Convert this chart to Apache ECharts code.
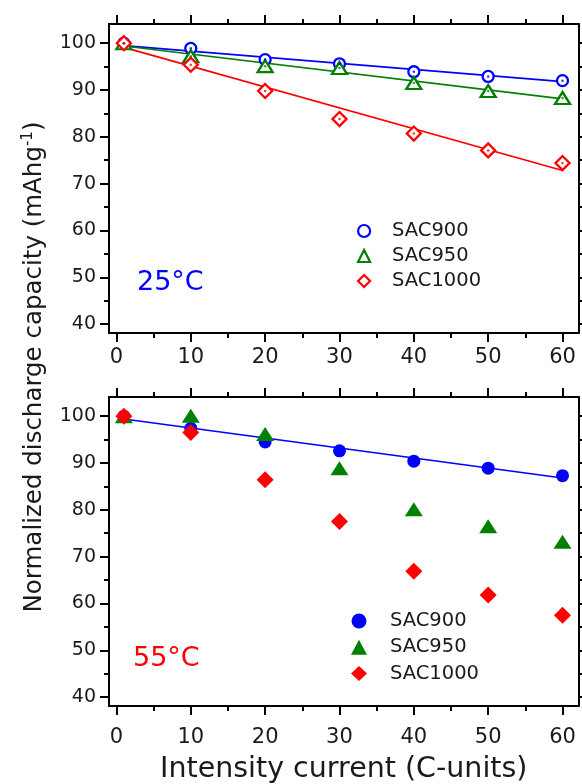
<!DOCTYPE html>
<html>
<head>
<meta charset="utf-8">
<script src="https://cdn.jsdelivr.net/npm/echarts@6/dist/echarts.min.js"></script>
<style>
html,body{margin:0;padding:0;background:#fff;}
#chart{width:582px;height:784px;}
</style>
</head>
<body>
<div id="chart"></div>
<script>
// ---- data ----
const xTicks = [0, 10, 20, 30, 40, 50, 60];
const xMinorTicks = [5, 15, 25, 35, 45, 55];
const yTicks = [40, 50, 60, 70, 80, 90, 100];
const yMinorTicks = [45, 55, 65, 75, 85, 95];
const currents = [1, 10, 20, 30, 40, 50, 60];
// 25 °C
const sac900_25 = [100, 98.9, 96.5, 95.6, 93.9, 92.9, 92.0];
const sac950_25 = [100, 97.2, 95.1, 94.7, 91.5, 89.8, 88.3];
const sac1000_25 = [100, 95.4, 89.8, 83.8, 80.7, 77.1, 74.4];
const fitX = [1, 60];
const fit900_25 = [99.5, 91.8];
const fit950_25 = [99.4, 88.1];
const fit1000_25 = [99.1, 72.8];
// 55 °C
const sac900_55 = [100, 97.4, 94.5, 92.6, 90.4, 88.9, 87.3];
const sac950_55 = [100, 100.1, 96.2, 88.9, 80.1, 76.5, 73.2];
const sac1000_55 = [100, 96.5, 86.4, 77.5, 66.9, 61.8, 57.5];
const fit900_55 = [99.4, 86.8];
const seriesNames = ['SAC900', 'SAC950', 'SAC1000'];

// ---- styling ----
const FONT = 'DejaVu Sans';
const TXT = '#1a1a1a';
const BLUE = '#0000ff', GREEN = '#008000', RED = '#ff0000';
const X_MIN = -1, X_MAX = 62.15, Y_MIN = 38.1, Y_MAX = 104.1;

const pts = (xs, ys) => xs.map((x, i) => [x, ys[i]]);

function xAxes(gi, labelMargin, withName) {
  const base = {gridIndex: gi, type: 'value', min: X_MIN, max: X_MAX, splitLine: {show: false}};
  const major = {show: true, inside: false, length: 9, customValues: xTicks, lineStyle: {color: '#000', width: 2}};
  const minor = {show: true, inside: false, length: 5, customValues: xMinorTicks, lineStyle: {color: '#000', width: 2}};
  const main = Object.assign({}, base, {
    position: 'bottom',
    axisLine: {show: true, onZero: false, lineStyle: {color: '#000', width: 2}},
    axisTick: major,
    axisLabel: {show: true, customValues: xTicks, fontSize: 21, fontFamily: FONT, color: TXT, margin: labelMargin}
  });
  if (withName) {
    Object.assign(main, {
      name: 'Intensity current (C-units)', nameLocation: 'middle', nameGap: 49,
      nameTextStyle: {fontSize: 28.5, fontFamily: FONT, color: TXT}
    });
  }
  return [
    main,
    Object.assign({}, base, {position: 'bottom', axisLine: {show: false, onZero: false}, axisTick: minor, axisLabel: {show: false}}),
    Object.assign({}, base, {position: 'top', axisLine: {show: true, onZero: false, lineStyle: {color: '#000', width: 2}}, axisTick: major, axisLabel: {show: false}}),
    Object.assign({}, base, {position: 'top', axisLine: {show: false, onZero: false}, axisTick: minor, axisLabel: {show: false}})
  ];
}

function yAxes(gi) {
  const base = {gridIndex: gi, type: 'value', min: Y_MIN, max: Y_MAX, splitLine: {show: false}};
  const major = {show: true, inside: false, length: 9, customValues: yTicks, lineStyle: {color: '#000', width: 2}};
  const minor = {show: true, inside: false, length: 5, customValues: yMinorTicks, lineStyle: {color: '#000', width: 2}};
  return [
    Object.assign({}, base, {
      position: 'left',
      axisLine: {show: true, onZero: false, lineStyle: {color: '#000', width: 2}},
      axisTick: major,
      axisLabel: {show: true, customValues: yTicks, fontSize: 19, fontFamily: FONT, color: TXT, margin: 13}
    }),
    Object.assign({}, base, {position: 'left', axisLine: {show: false, onZero: false}, axisTick: minor, axisLabel: {show: false}}),
    Object.assign({}, base, {position: 'right', axisLine: {show: true, onZero: false, lineStyle: {color: '#000', width: 2}}, axisTick: major, axisLabel: {show: false}}),
    Object.assign({}, base, {position: 'right', axisLine: {show: false, onZero: false}, axisTick: minor, axisLabel: {show: false}})
  ];
}

function fitLine(name, ys, color, axisIdx) {
  return {type: 'line', name: name, xAxisIndex: axisIdx, yAxisIndex: axisIdx, data: pts(fitX, ys),
    symbol: 'none', silent: true, lineStyle: {color: color, width: 1.7}, z: 2};
}
function hollow(name, ys, color, symbol, size) {
  return {type: 'scatter', name: name, xAxisIndex: 0, yAxisIndex: 0, data: pts(currents, ys),
    symbol: symbol, symbolSize: size, itemStyle: {color: '#fff', borderColor: color, borderWidth: 2.3, opacity: 1}, z: 3};
}
function centerDot(name, ys, color) {
  return {type: 'scatter', name: name, xAxisIndex: 0, yAxisIndex: 0, data: pts(currents, ys),
    symbol: 'circle', symbolSize: 2.5, silent: true, itemStyle: {color: color}, z: 4};
}
function filled(name, ys, color, symbol, size) {
  return {type: 'scatter', name: name, xAxisIndex: 4, yAxisIndex: 4, data: pts(currents, ys),
    symbol: symbol, symbolSize: size, itemStyle: {color: color, opacity: 1}, z: 3};
}

const option = {
  animation: false,
  backgroundColor: '#fff',
  grid: [
    {left: 109, top: 24, width: 469.5, height: 309, containLabel: false, outerBoundsMode: 'none'},
    {left: 109, top: 397, width: 469.5, height: 309, containLabel: false, outerBoundsMode: 'none'}
  ],
  xAxis: [].concat(xAxes(0, 14, false), xAxes(1, 21, true)),
  yAxis: [].concat(yAxes(0), yAxes(1)),
  legend: [
    {
      orient: 'vertical', left: 357, top: 221, padding: 0, itemWidth: 12, itemHeight: 12, itemGap: 5,
      textStyle: {fontSize: 19.5, fontFamily: FONT, color: TXT, lineHeight: 20, padding: [0, 0, 0, 17]},
      selectedMode: false,
      data: [
        {name: 'SAC900', icon: 'circle', itemStyle: {color: '#fff', borderColor: BLUE, borderWidth: 2.2}},
        {name: 'SAC950', icon: 'triangle', itemStyle: {color: '#fff', borderColor: GREEN, borderWidth: 2.2}},
        {name: 'SAC1000', icon: 'diamond', itemStyle: {color: '#fff', borderColor: RED, borderWidth: 2.2}}
      ]
    },
    {
      orient: 'vertical', left: 351, top: 611, padding: 0, itemWidth: 16, itemHeight: 15, itemGap: 6.3,
      textStyle: {fontSize: 19.5, fontFamily: FONT, color: TXT, lineHeight: 20, padding: [0, 0, 0, 18]},
      selectedMode: false,
      formatter: n => n.split('@')[0],
      data: [
        {name: 'SAC900@55', icon: 'circle', itemStyle: {color: BLUE}},
        {name: 'SAC950@55', icon: 'triangle', itemStyle: {color: GREEN}},
        {name: 'SAC1000@55', icon: 'diamond', itemStyle: {color: RED}}
      ]
    }
  ],
  graphic: [
    {
      type: 'text', x: 35, y: 367, rotation: Math.PI / 2,
      style: {
        text: 'Normalized discharge capacity (mAhg{sup|-1})',
        fontSize: 24.5, fontFamily: FONT, fill: TXT, align: 'center', verticalAlign: 'middle', lineHeight: 28,
        rich: {sup: {fontSize: 15, fontFamily: FONT, fill: TXT, verticalAlign: 'top', lineHeight: 15}}
      }
    },
    {type: 'text', x: 137, y: 282.5, style: {text: '25°C', fontSize: 27, fontFamily: FONT, fill: BLUE, align: 'left', verticalAlign: 'middle'}},
    {type: 'text', x: 133, y: 659, style: {text: '55°C', fontSize: 27, fontFamily: FONT, fill: RED, align: 'left', verticalAlign: 'middle'}}
  ],
  series: [
    fitLine('fit900_25', fit900_25, BLUE, 0),
    fitLine('fit950_25', fit950_25, GREEN, 0),
    fitLine('fit1000_25', fit1000_25, RED, 0),
    hollow(seriesNames[0], sac900_25, BLUE, 'circle', 11),
    centerDot('dot900', sac900_25, BLUE),
    hollow(seriesNames[1], sac950_25, GREEN, 'triangle', [15, 12]),
    centerDot('dot950', sac950_25, GREEN),
    hollow(seriesNames[2], sac1000_25, RED, 'diamond', [14, 14]),
    centerDot('dot1000', sac1000_25, RED),
    fitLine('fit900_55', fit900_55, BLUE, 4),
    filled(seriesNames[0] + '@55', sac900_55, BLUE, 'circle', 13),
    filled(seriesNames[1] + '@55', sac950_55, GREEN, 'triangle', [18, 14]),
    filled(seriesNames[2] + '@55', sac1000_55, RED, 'diamond', [17, 17])
  ]
};

const chart = echarts.init(document.getElementById('chart'));
chart.setOption(option);
</script>
</body>
</html>
